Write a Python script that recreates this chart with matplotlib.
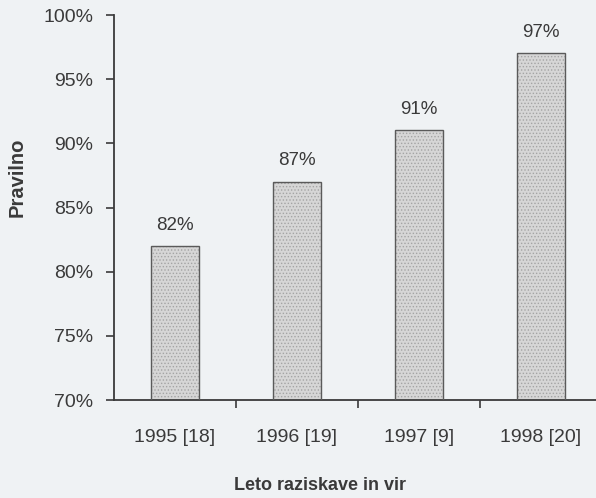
import matplotlib.pyplot as plt
import numpy as np

plt.rcParams['font.family'] = ['Liberation Sans', 'DejaVu Sans']
plt.rcParams['hatch.linewidth'] = 0.6

# data
categories = ['1995 [18]', '1996 [19]', '1997 [9]', '1998 [20]']
values = [82, 87, 91, 97]
yticks = [70, 75, 80, 85, 90, 95, 100]

bg = '#eff2f4'
ink = '#3a3a3a'

fig = plt.figure(figsize=(5.96, 4.98), dpi=100, facecolor=bg)
ax = fig.add_axes([114/596, 98/498, 488/596, 385/498])
ax.set_facecolor(bg)

x = np.arange(len(categories))
# dotted fill, then outline on top
ax.bar(x, np.array(values) - 70, bottom=70, width=0.4, color='#d6d6d6',
       hatch='.....', edgecolor='#a4a4a4', linewidth=0, zorder=2)
ax.bar(x, np.array(values) - 70, bottom=70, width=0.4, fill=False,
       edgecolor='#5a5a5a', linewidth=1.0, zorder=3)

for xi, v in zip(x, values):
    ax.annotate(f'{v}%', (xi, v), xytext=(0, 9), textcoords='offset points',
                ha='center', va='bottom', fontsize=13.5, color=ink)

ax.set_xlim(-0.5, 3.5)
ax.set_ylim(70, 100)
ax.set_yticks(yticks)
ax.set_yticklabels([f'{t}%' for t in yticks])
ax.set_xticks(x)
ax.set_xticklabels(categories)
ax.set_xticks(x[:-1] + 0.5, minor=True)

ax.tick_params(axis='y', length=6, width=1.2, color=ink, pad=9,
               labelsize=14, labelcolor=ink)
ax.tick_params(axis='x', which='major', length=0, pad=21,
               labelsize=14, labelcolor=ink)
ax.tick_params(axis='x', which='minor', length=6, width=1.2, color=ink)

for s in ['top', 'right']:
    ax.spines[s].set_visible(False)
for s in ['left', 'bottom']:
    ax.spines[s].set_color(ink)
    ax.spines[s].set_linewidth(1.3)

fig.text(320/596, 1 - 485/498, 'Leto raziskave in vir', ha='center',
         va='center', fontsize=13, fontweight='bold', color=ink)
fig.text(17/596, 1 - 177/498, 'Pravilno', ha='center', va='center',
         rotation=90, fontsize=14.5, fontweight='bold', color=ink)

fig.savefig('out.png', dpi=100, facecolor=bg)
